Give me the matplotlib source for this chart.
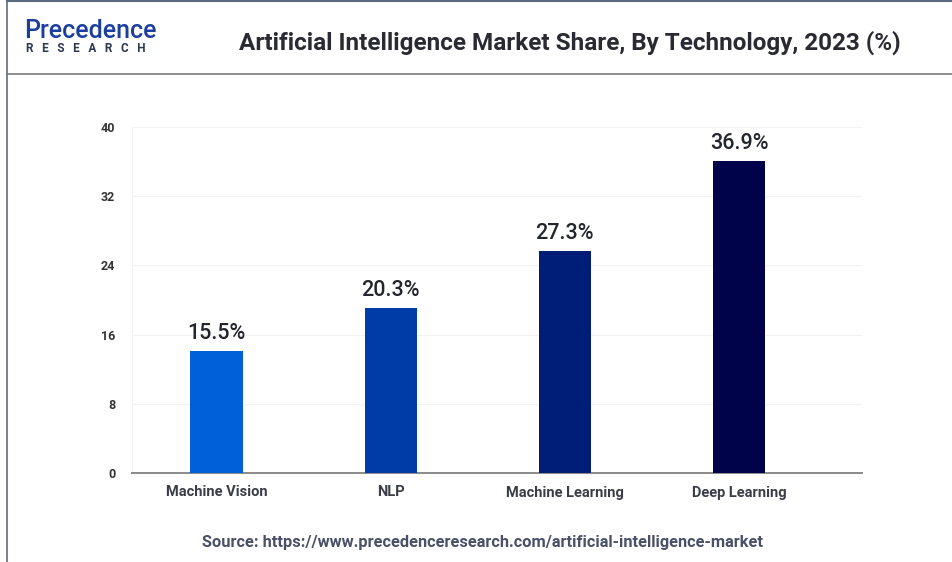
import matplotlib.pyplot as plt
from matplotlib.lines import Line2D

# data
technologies = ["Machine Vision", "NLP", "Machine Learning", "Deep Learning"]
bar_heights = [14.1, 19.1, 25.7, 36.1]
share_labels = ["15.5%", "20.3%", "27.3%", "36.9%"]
y_ticks = [0, 8, 16, 24, 32, 40]
bar_colors = ["#0060d8", "#003ca8", "#001e78", "#00034a"]

plt.rcParams['font.family'] = ['Roboto', 'DejaVu Sans']

fig = plt.figure(figsize=(9.52, 5.62), dpi=100)
W, H = 952, 562

# frame around the card
frame_col = "#5d6b80"
fig.add_artist(Line2D([7 / W, 7 / W], [0, 1 - 1 / H], color=frame_col, lw=1.2))
fig.add_artist(Line2D([7 / W, 1], [1 - 1 / H, 1 - 1 / H], color=frame_col, lw=1.5))
fig.add_artist(Line2D([7 / W, 1], [1 - 74 / H, 1 - 74 / H], color="#7a7a7a", lw=1.2))

# logo
fig.text(24 / W, 1 - 31 / H, "Precedence", fontsize=18, color="#1c3f9e",
         fontweight="medium", va="center", ha="left")
fig.text(26 / W, 1 - 48 / H, "R   E   S   E   A   R   C   H", fontsize=8.5, color="#2a3550",
         fontweight="bold", va="center", ha="left")

# title
fig.text(570 / W, 1 - 43 / H, "Artificial Intelligence Market Share, By Technology, 2023 (%)",
         fontsize=17.5, fontweight="bold", color="#2a2a33", ha="center", va="center")

ax = fig.add_axes([132 / W, 1 - 473 / H, (862 - 132) / W, (473 - 127) / H])
x = list(range(len(technologies)))
bars = ax.bar(x, bar_heights, width=0.3, color=bar_colors, zorder=3)

for b, lab in zip(bars, share_labels):
    ax.text(b.get_x() + b.get_width() / 2, b.get_height() + 0.8, lab,
            ha="center", va="bottom", fontsize=15.5, color="#24262e", fontweight="medium")

ax.set_xlim(-0.486, 3.707)
ax.set_ylim(0, 40)
ax.set_yticks(y_ticks)
ax.set_yticklabels([str(t) for t in y_ticks], fontsize=9, fontweight="bold", color="#333333")
ax.set_xticks(x)
ax.set_xticklabels(technologies, fontsize=10.5, fontweight="bold", color="#3a3d48")
ax.tick_params(axis="both", length=0)
ax.tick_params(axis="y", pad=12)
ax.tick_params(axis="x", pad=9)

ax.grid(axis="y", color="#f2f2f2", lw=0.8, zorder=0)
for side in ["top", "right"]:
    ax.spines[side].set_visible(False)
ax.spines["left"].set_color("#f2f2f2")
ax.spines["bottom"].set_color("#8a8a8a")
ax.spines["bottom"].set_linewidth(1.4)

fig.text(483 / W, 1 - 542 / H, "Source: https://www.precedenceresearch.com/artificial-intelligence-market",
         fontsize=11.8, fontweight="bold", color="#4a5068", ha="center", va="center")

fig.savefig("out.png", dpi=100)
